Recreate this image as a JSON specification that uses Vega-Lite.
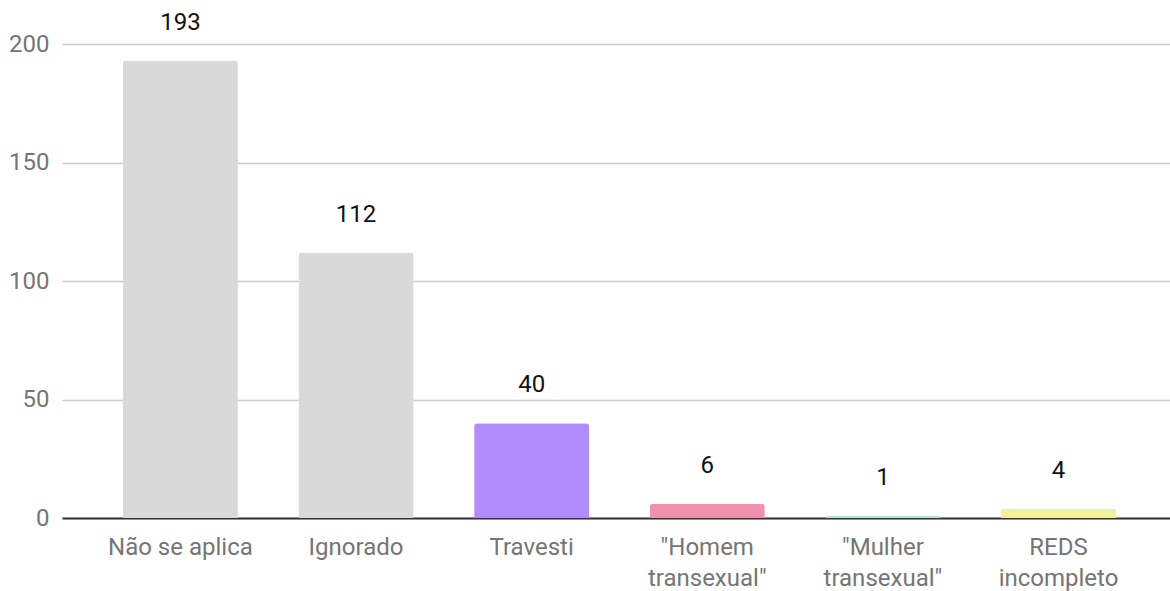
{
  "$schema": "https://vega.github.io/schema/vega-lite/v6.json",
  "width": 1108,
  "height": 474,
  "autosize": {"type": "none"},
  "padding": {"left": 62, "top": 44, "right": 0, "bottom": 73},
  "background": "white",
  "config": {"view": {"stroke": null}, "font": "Roboto"},
  "data": {
    "values": [
      {"cat": "Não se aplica", "value": 193, "color": "#d9d9d9"},
      {"cat": "Ignorado", "value": 112, "color": "#d9d9d9"},
      {"cat": "Travesti", "value": 40, "color": "#b18cfe"},
      {"cat": "\"Homem|transexual\"", "value": 6, "color": "#ef91ad"},
      {"cat": "\"Mulher|transexual\"", "value": 1, "color": "#b5e3e3"},
      {"cat": "REDS|incompleto", "value": 4, "color": "#f1f19b"}
    ]
  },
  "encoding": {
    "x": {
      "field": "cat", "type": "nominal", "sort": null,
      "scale": {"paddingInner": 0.345, "paddingOuter": 0.327, "align": 0.53},
      "axis": {
        "title": null, "labelAngle": 0, "labelFontSize": 24, "labelColor": "#757575",
        "labelExpr": "split(datum.label, '|')", "labelLineHeight": 31,
        "labelPadding": 17, "ticks": false, "domainColor": "#333333", "domainWidth": 2,
        "labelBaseline": "top"
      }
    },
    "y": {
      "field": "value", "type": "quantitative",
      "scale": {"domain": [0, 200], "nice": false},
      "axis": {
        "title": null, "values": [0, 50, 100, 150, 200], "labelFontSize": 24,
        "labelColor": "#757575", "labelPadding": 13, "ticks": false, "domain": false,
        "gridColor": "#cccccc", "gridWidth": 1.5
      }
    }
  },
  "layer": [
    {
      "mark": {"type": "bar", "cornerRadiusTopLeft": 3, "cornerRadiusTopRight": 3},
      "encoding": {"color": {"field": "color", "type": "nominal", "scale": null}}
    },
    {
      "mark": {"type": "text", "baseline": "alphabetic", "dy": -31, "fontSize": 24, "color": "#111111"},
      "encoding": {"text": {"field": "value", "type": "quantitative"}}
    }
  ]
}
